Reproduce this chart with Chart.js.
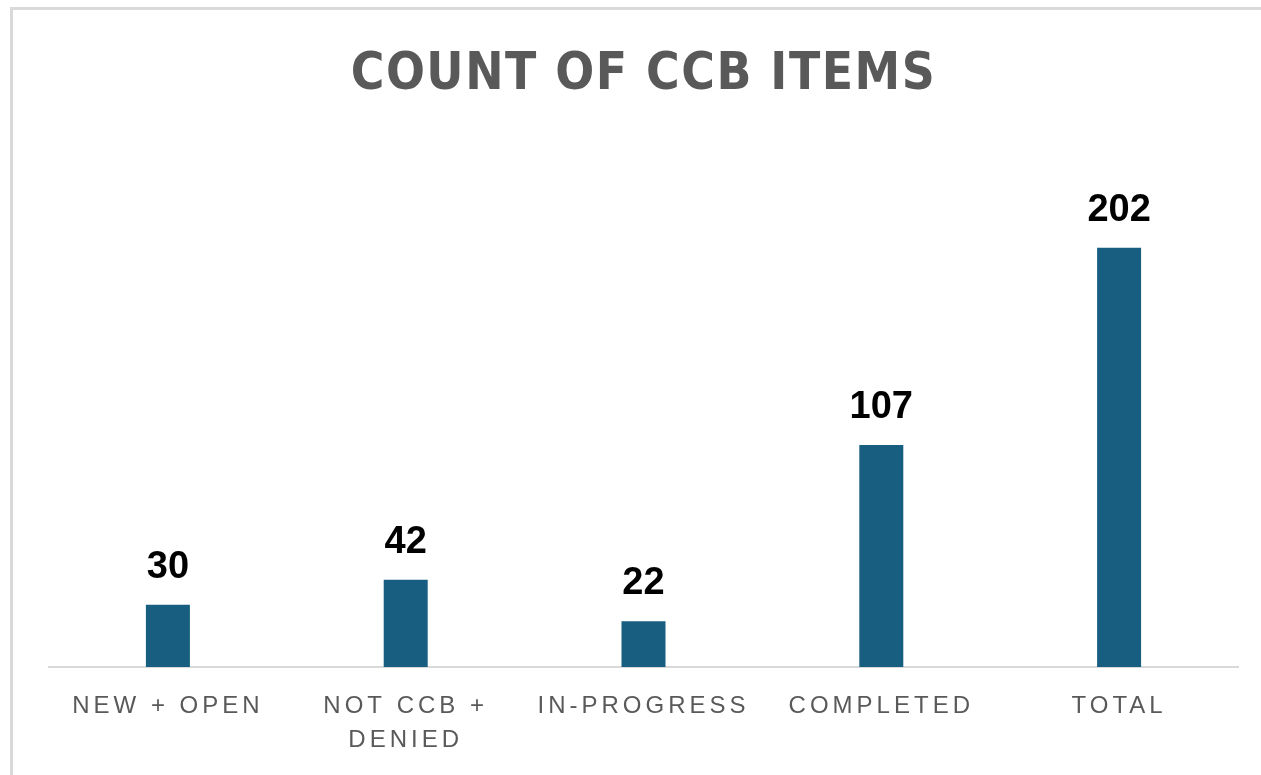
<!DOCTYPE html>
<html>
<head>
<meta charset="utf-8">
<script src="https://cdn.jsdelivr.net/npm/chart.js@4.4.1/dist/chart.umd.min.js"></script>
<style>
  html, body { margin: 0; padding: 0; background: #fff; }
  #frame {
    position: absolute; left: 10px; top: 7px;
    width: 1251px; height: 768px;
    border-top: 3px solid #d9d9d9; border-left: 3px solid #d9d9d9;
  }
  #wrap { position: absolute; left: 0; top: 0; width: 1248px; height: 765px; }
</style>
</head>
<body>
<div id="frame"><div id="wrap"><canvas id="ccb"></canvas></div></div>
<script>
const categories = [['NEW + OPEN'], ['NOT CCB +', 'DENIED'], ['IN-PROGRESS'], ['COMPLETED'], ['TOTAL']];
const counts = [30, 42, 22, 107, 202];
const yMax = 250;

// numbers above the bars, placed from the bar elements
const valueLabels = {
  id: 'valueLabels',
  afterDatasetsDraw(chart) {
    const ctx = chart.ctx;
    const meta = chart.getDatasetMeta(0);
    ctx.save();
    ctx.letterSpacing = '0px';
    ctx.font = 'bold 38px "Liberation Sans", Arial, sans-serif';
    ctx.fillStyle = '#000';
    ctx.textAlign = 'center';
    ctx.textBaseline = 'alphabetic';
    meta.data.forEach((bar, i) => {
      ctx.fillText(String(counts[i]), bar.x, bar.y - 27);
    });
    ctx.restore();
  }
};

// spaced-out letters for the title and the category labels
const spacing = {
  id: 'spacing',
  afterLayout(chart) {
    const ctx = chart.ctx;
    const tb = chart.titleBlock;
    if (tb && !tb._spaced) {
      const orig = tb.draw;
      tb.draw = function (a) {
        ctx.save();
        ctx.letterSpacing = '1.5px';
        orig.call(this, a);
        ctx.restore();
      };
      tb._spaced = true;
    }
    const sx = chart.scales.x;
    if (sx && !sx._spaced) {
      const origL = sx.drawLabels;
      sx.drawLabels = function (a) {
        ctx.save();
        ctx.letterSpacing = '4px';
        origL.call(this, a);
        ctx.restore();
      };
      sx._spaced = true;
    }
  }
};

new Chart(document.getElementById('ccb'), {
  type: 'bar',
  data: {
    labels: categories,
    datasets: [{
      label: 'Count',
      data: counts,
      backgroundColor: '#175e80',
      barPercentage: 0.185,
      categoryPercentage: 1
    }]
  },
  options: {
    responsive: true,
    maintainAspectRatio: false,
    animation: false,
    layout: { padding: { left: 36, right: 23, top: 0, bottom: 0 } },
    plugins: {
      legend: { display: false },
      tooltip: { enabled: false },
      title: {
        display: true,
        text: 'COUNT OF CCB ITEMS',
        color: '#595959',
        font: { family: '"Liberation Sans Narrow", "DejaVu Sans Condensed", sans-serif', size: 51, weight: 'bold', lineHeight: 1.2 },
        padding: { top: 35, bottom: 42 }
      }
    },
    scales: {
      x: {
        grid: { display: false, drawTicks: false },
        border: { display: true, color: '#d9d9d9', width: 2 },
        afterFit(scale) { scale.height = 108; },
        ticks: {
          color: '#595959',
          padding: 22,
          maxRotation: 0,
          autoSkip: false,
          font: { family: '"Liberation Sans", Arial, sans-serif', size: 24, lineHeight: 34 / 24 }
        }
      },
      y: {
        display: false,
        min: 0,
        max: yMax
      }
    }
  },
  plugins: [valueLabels, spacing]
});
</script>
</body>
</html>
